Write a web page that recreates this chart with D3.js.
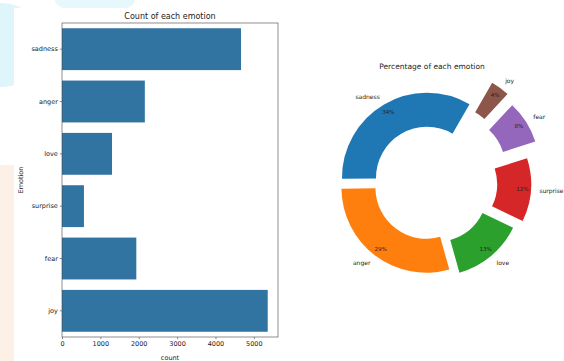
<!DOCTYPE html>
<html>
<head>
<meta charset="utf-8">
<script src="https://cdn.jsdelivr.net/npm/d3@7"></script>
<style>
  html, body { margin: 0; padding: 0; background: #ffffff; }
  svg { display: block; }
  text { font-family: "DejaVu Sans", sans-serif; fill: #222; }
</style>
</head>
<body>
<svg id="chart" width="564" height="361"></svg>
<script>
// ---------- data ----------
const barCategories = ["sadness", "anger", "love", "surprise", "fear", "joy"];
const barCounts = [4666, 2159, 1304, 572, 1937, 5362];
const xTicks = [0, 1000, 2000, 3000, 4000, 5000];

// pie: values in value_counts order, labels in the order the chart shows them
const pieValues = [5362, 4666, 2159, 1937, 1304, 572];
const pieLabels = ["sadness", "anger", "love", "surprise", "fear", "joy"];
const pieColors = ["#1f77b4", "#ff7f0e", "#2ca02c", "#d62728", "#9467bd", "#8c564b"];
const pieExplode = [0.07, 0.07, 0.12, 0.19, 0.34, 0.39];

const svg = d3.select("#chart");

// ---------- faint background watermark ----------
const bg = svg.append("g");
bg.append("rect").attr("x", 0).attr("y", 0).attr("width", 564).attr("height", 361).attr("fill", "#ffffff");
bg.append("circle").attr("cx", 2).attr("cy", 45).attr("r", 42).attr("fill", "#def5fb");
bg.append("ellipse").attr("cx", 95).attr("cy", 0).attr("rx", 40).attr("ry", 14).attr("fill", "#e6f8fc");
bg.append("rect").attr("x", 0).attr("y", 165).attr("width", 16).attr("height", 196).attr("fill", "#fdf1e7");
// figure area
bg.append("rect").attr("x", 14).attr("y", 8).attr("width", 550).attr("height", 353).attr("fill", "#ffffff");

// ---------- bar chart ----------
const bx0 = 62, bx1 = 278, by0 = 23, by1 = 337;
const x = d3.scaleLinear().domain([0, d3.max(barCounts) * 1.05]).range([bx0, bx1]);
const y = d3.scaleBand().domain(barCategories).range([by0, by1]).paddingInner(0.2).paddingOuter(0.1);

const bars = svg.append("g");
bars.selectAll("rect.bar")
  .data(barCategories)
  .join("rect")
  .attr("class", "bar")
  .attr("x", x(0))
  .attr("y", d => y(d))
  .attr("width", (d, i) => x(barCounts[i]) - x(0))
  .attr("height", y.bandwidth())
  .attr("fill", "#3274a1");

// frame
svg.append("rect")
  .attr("x", bx0).attr("y", by0).attr("width", bx1 - bx0).attr("height", by1 - by0)
  .attr("fill", "none").attr("stroke", "#444").attr("stroke-width", 0.6);

const xAxis = svg.append("g")
  .attr("transform", `translate(0,${by1})`)
  .call(d3.axisBottom(x).tickValues(xTicks).tickFormat(d3.format("d")).tickSize(2.2).tickPadding(2));
const yAxis = svg.append("g")
  .attr("transform", `translate(${bx0},0)`)
  .call(d3.axisLeft(y).tickSize(2.2).tickPadding(2));
[xAxis, yAxis].forEach(a => {
  a.select(".domain").remove();
  a.selectAll(".tick line").attr("stroke", "#444").attr("stroke-width", 0.6);
  a.selectAll(".tick text").attr("font-size", 6.5).attr("font-family", "DejaVu Sans").attr("fill", "#222");
});

svg.append("text").attr("x", (bx0 + bx1) / 2).attr("y", 19).attr("text-anchor", "middle")
  .attr("font-size", 8).text("Count of each emotion");
svg.append("text").attr("x", (bx0 + bx1) / 2).attr("y", 360).attr("text-anchor", "middle")
  .attr("font-size", 6.5).text("count");
svg.append("text").attr("transform", `translate(23,${(by0 + by1) / 2}) rotate(-90)`)
  .attr("text-anchor", "middle").attr("font-size", 6.5).text("Emotion");

// ---------- donut chart ----------
const cx = 430, cy = 183, R = 85, rIn = 0.6 * R;
const start = Math.PI / 2 - 60 * Math.PI / 180; // matplotlib startangle 60, counter-clockwise
const pie = d3.pie().sort(null).startAngle(start).endAngle(start - 2 * Math.PI);
const arcs = pie(pieValues);
const total = d3.sum(pieValues);
const arc = d3.arc().innerRadius(rIn).outerRadius(R);

const pg = svg.append("g").attr("transform", `translate(${cx},${cy})`);
arcs.forEach((a, i) => {
  const mid = (a.startAngle + a.endAngle) / 2;
  const dx = Math.sin(mid), dy = -Math.cos(mid);
  const off = pieExplode[i] * R;
  const ox = dx * off, oy = dy * off;
  const g = pg.append("g").attr("transform", `translate(${ox},${oy})`);
  g.append("path").attr("d", arc(a)).attr("fill", pieColors[i]);
  // percentage text
  const pd = 0.9 * R;
  g.append("text").attr("x", dx * pd).attr("y", dy * pd).attr("dy", "0.35em")
    .attr("text-anchor", "middle").attr("font-size", 5.5)
    .text(d3.format(".0f")(pieValues[i] / total * 100) + "%");
  // label
  const ld = 1.1 * R;
  g.append("text").attr("x", dx * ld).attr("y", dy * ld).attr("dy", "0.35em")
    .attr("text-anchor", dx >= 0 ? "start" : "end").attr("font-size", 6)
    .text(pieLabels[i]);
});

svg.append("text").attr("x", 432).attr("y", 69).attr("text-anchor", "middle")
  .attr("font-size", 7.5).text("Percentage of each emotion");
</script>
</body>
</html>
